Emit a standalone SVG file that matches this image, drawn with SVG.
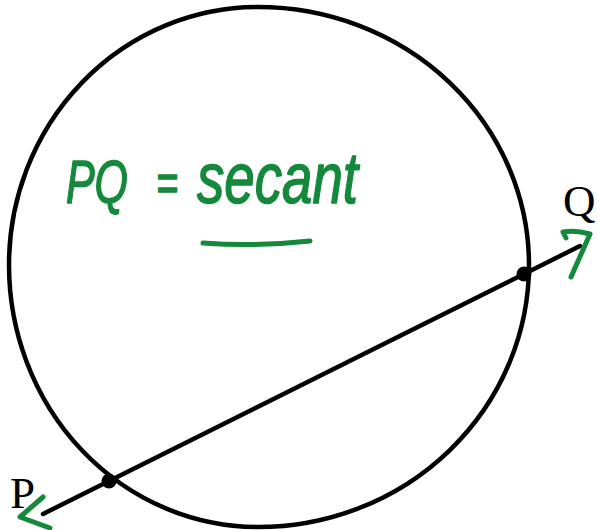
<svg xmlns="http://www.w3.org/2000/svg" width="597" height="530" viewBox="0 0 597 530">
<style>
.ink{fill:none;stroke:#000;stroke-width:4.5;stroke-linecap:round}
.pen{fill:none;stroke:#14893c;stroke-width:5;stroke-linecap:round;stroke-linejoin:round}
.lbl{font-family:"Liberation Serif","Times New Roman",serif;font-size:45px;fill:#000}
.hand{font-family:"Liberation Sans",Arial,sans-serif;font-style:italic;fill:#14893c;stroke:#14893c;stroke-width:1.5;stroke-linejoin:round}
</style>
<rect width="597" height="530" fill="#fff"/>
<g id="circle">
<path class="ink" d="M 9 265 A 249 258 0 0 1 258 7 A 271 258 0 0 1 529 265 A 271 262 0 0 1 258 527 A 249 262 0 0 1 9 265 Z"/>
</g>
<g id="connectors">
<line class="ink" x1="43" y1="514" x2="580" y2="246"/>
</g>
<g id="point-P">
<circle cx="109" cy="481" r="7.5" fill="#000"/>
<text class="lbl" x="10" y="508">P</text>
<path class="pen" d="M 43 497 L 20 517 L 50 528"/>
</g>
<g id="point-Q">
<circle cx="524" cy="274" r="7.5" fill="#000"/>
<text class="lbl" x="563" y="216">Q</text>
<path class="pen" d="M 566 238 L 563 232 Q 576 230 590 234 L 571 277"/>
</g>
<g id="annotation">
<text class="hand" x="66" y="203" font-size="62" textLength="62" lengthAdjust="spacingAndGlyphs">PQ</text>
<text class="hand" x="156" y="201" font-size="54" textLength="22" lengthAdjust="spacingAndGlyphs">=</text>
<text class="hand" x="197" y="203" font-size="72" textLength="161" lengthAdjust="spacingAndGlyphs">secant</text>
<path class="pen" stroke-width="6" d="M 203 243 Q 255 247 310 241"/>
</g>
</svg>
